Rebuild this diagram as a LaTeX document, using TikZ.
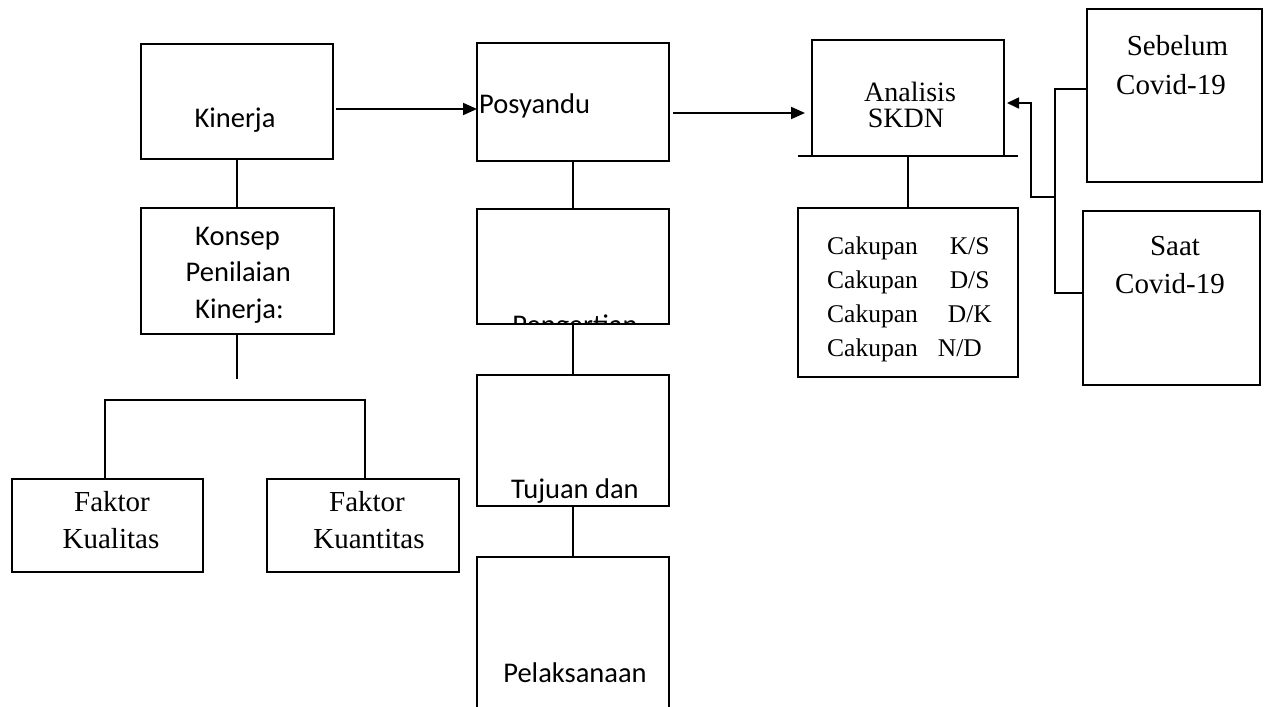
\documentclass[tikz,border=0pt]{standalone}
\usepackage{fontspec}
\setmainfont{Liberation Serif}
\newfontfamily\calib{Carlito}
\usetikzlibrary{arrows.meta,calc}
\begin{document}
\begin{tikzpicture}[x=1pt,y=-1pt]
\tikzset{
  bx/.style 2 args={draw, line width=2pt, inner sep=0pt, outer sep=0pt, minimum width=#1, minimum height=#2},
  sbx/.style 2 args={draw, line width=1.7pt, inner sep=0pt, outer sep=0pt, minimum width=#1, minimum height=#2},
  st/.style={font=\calib\fontsize{28.5}{34}\selectfont, inner sep=0pt, anchor=base},
  rt/.style={font=\fontsize{29}{34}\selectfont, inner sep=0pt, anchor=base},
  ct/.style={font=\fontsize{25.5}{30}\selectfont, inner sep=0pt, anchor=base west},
  ln/.style={line width=2pt},
  sln/.style={line width=1.7pt},
  arr/.style={line width=2pt, -{Triangle[length=14pt,width=12pt]}},
  sarr/.style={line width=1.7pt, -{Triangle[length=12pt,width=11pt]}}
}
\useasboundingbox (0,0) rectangle (1270,707);
\clip (0,0) rectangle (1270,707);
\fill[white] (0,0) rectangle (1270,707);

% left column
\node[bx={192pt}{115pt}] (kin) at (237,101.5) {};
\node[bx={193pt}{126pt}] (kon) at (237.5,271) {};
\node[sbx={191pt}{93pt}] (fk1) at (107.5,525.5) {};
\node[sbx={192pt}{93pt}] (fk2) at (363,525.5) {};

% middle column
\node[bx={192pt}{118pt}] (pos) at (573,102) {};
\node[bx={192pt}{115pt}] (pen) at (573,266.5) {};
\node[bx={192pt}{131pt}] (tuj) at (573,440.5) {};
\node[bx={192pt}{163pt}] (pel) at (573,638.5) {};

% right side
\node[sbx={192pt}{116pt}] (ana) at (908,98) {};
\node[sbx={220pt}{169pt}] (cak) at (908,292.5) {};
\node[sbx={175pt}{173pt}] (seb) at (1174.5,95.5) {};
\node[sbx={177pt}{174pt}] (saat) at (1171.5,298) {};

% texts
\node[st] (tkin) at (235,127) {Kinerja};
\node[st] (tkon1) at (237.5,245) {Konsep};
\node[st] (tkon2) at (238.3,281.5) {Penilaian};
\node[st] (tkon3) at (239.5,318) {Kinerja:};
\node[st, anchor=base west] (tpos) at (479,113) {Posyandu};
\begin{scope}
  \clip (pen.north west) rectangle (pen.south east);
  \node[st] (tpen) at (575,334) {Pengertian};
\end{scope}
\node[st] (ttuj) at (575,498) {Tujuan dan};
\node[st] (tpel) at (575,682) {Pelaksanaan};

\node[rt] (tfk1a) at (112,511) {Faktor};
\node[rt] (tfk1b) at (111,548) {Kualitas};
\node[rt] (tfk2a) at (367,511) {Faktor};
\node[rt] (tfk2b) at (369,548) {Kuantitas};

\node[rt, font=\fontsize{28}{30}\selectfont] (tana1) at (910,101) {Analisis};
\node[rt, font=\fontsize{28}{30}\selectfont] (tana2) at (906,127) {SKDN};

\node[ct] (tc1) at (827,254) {Cakupan\hspace{32pt}K/S};
\node[ct] (tc2) at (827,288) {Cakupan\hspace{32pt}D/S};
\node[ct] (tc3) at (827,322) {Cakupan\hspace{30pt}D/K};
\node[ct] (tc4) at (827,356) {Cakupan\hspace{20pt}N/D};

\node[rt] (tseb1) at (1177.5,55) {Sebelum};
\node[rt] (tseb2) at (1171,94) {Covid-19};
\node[rt] (tsaat1) at (1175,255) {Saat};
\node[rt] (tsaat2) at (1170,293) {Covid-19};

% connectors left
\draw[ln] (kin.south) -- (kin.south |- kon.north);
\coordinate (ks) at (237,379);
\draw[ln] (ks |- kon.south) -- (ks);
\coordinate (bl) at (105,400);
\coordinate (br) at (365,400);
\draw[sln] (bl |- fk1.north) -- (bl) -- (br) -- (br |- fk2.north);

% arrows top
\coordinate (a1) at ($(kin.east)+(3,7.5)$);
\draw[arr] (a1) -- (a1 -| pos.west);
\coordinate (a2) at ($(pos.east)+(4,11)$);
\draw[arr] (a2) -- ($(a2 -| ana.west)+(-7,0)$);

% middle column links
\draw[ln] (pos.south) -- (pen.north);
\draw[ln] (pen.south) -- (tuj.north);
\draw[ln] (tuj.south) -- (pel.north);

% analisis
\draw[sln] ($(ana.south west)+(-14,0)$) -- ($(ana.south east)+(14,0)$);
\draw[sln] (ana.south) -- (cak.north);

% right bracket
\coordinate (jt) at (1055,89);
\coordinate (jb) at (1055,293);
\coordinate (jm) at (1055,197);
\coordinate (jl) at (1031,197);
\draw[sln] (seb.west |- jt) -- (jt) -- (jb) -- (saat.west |- jb);
\draw[sarr] (jm) -- (jl) |- ($(ana.east)+(3,5)$);
\end{tikzpicture}
\end{document}
